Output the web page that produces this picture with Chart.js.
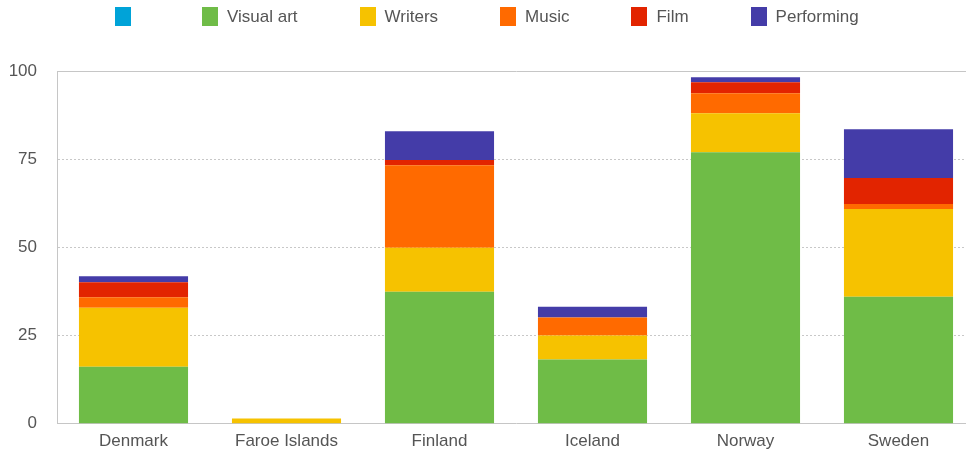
<!DOCTYPE html>
<html>
<head>
<meta charset="utf-8">
<script src="https://cdn.jsdelivr.net/npm/chart.js@4.4.0/dist/chart.umd.min.js"></script>
<style>
  html, body { margin: 0; padding: 0; overflow: hidden; background: #fff; }
  #wrap { position: relative; width: 975px; height: 454px; }
  #legend {
    position: absolute; top: 7px; left: 115px;
    display: flex; gap: 62px;
    font-family: "Liberation Sans", Arial, sans-serif; font-size: 17px; color: #555;
  }
  .item { display: flex; align-items: center; height: 19px; }
  .box { width: 16px; height: 19px; margin-right: 9px; }
</style>
</head>
<body>
<div id="wrap">
  <div id="legend"></div>
  <canvas id="myChart"></canvas>
</div>
<script>
const categories = ["Denmark", "Faroe Islands", "Finland", "Iceland", "Norway", "Sweden"];
const unnamed    = [0, 0, 0, 0, 0, 0];
const visualArt  = [16.2, 0, 37.4, 18.2, 77.0, 36.0];
const writers    = [16.7, 1.5, 12.5, 6.8, 11.0, 24.9];
const music      = [3.0, 0, 23.4, 5.1, 5.7, 1.4];
const film       = [4.2, 0, 1.5, 0, 3.1, 7.4];
const performing = [1.7, 0, 8.1, 3.1, 1.4, 13.8];
const yTicks     = [0, 25, 50, 75, 100];

const font = { family: "'Liberation Sans', Arial, sans-serif", size: 17 };
const lineColor = "#c6c6c6";

function ds(label, data, color) {
  return { label: label, data: data, backgroundColor: color, borderWidth: 0 };
}

const config = {
  type: "bar",
  data: {
    labels: categories,
    datasets: [
      ds("", unnamed, "#00a3d8"),
      ds("Visual art", visualArt, "#6fbc47"),
      ds("Writers", writers, "#f6c200"),
      ds("Music", music, "#ff6a00"),
      ds("Film", film, "#e22400"),
      ds("Performing", performing, "#443ca8")
    ]
  },
  options: {
    responsive: true,
    maintainAspectRatio: false,
    animation: false,
    layout: { padding: { top: 71, left: 9, right: 0, bottom: 3 } },
    datasets: { bar: { categoryPercentage: 1, barPercentage: 0.713 } },
    plugins: { legend: { display: false }, tooltip: { enabled: false } },
    scales: {
      x: {
        stacked: true,
        afterFit: function (axis) { axis.height = 26.7; },
        grid: { display: false, drawTicks: false },
        border: { color: lineColor, width: 1 },
        ticks: { font: font, color: "#555", padding: 7 }
      },
      xTop: {
        position: "top",
        grid: { display: false, drawTicks: false },
        border: { color: lineColor, width: 1 },
        ticks: { display: false }
      },
      y: {
        stacked: true,
        min: 0,
        max: 100,
        afterBuildTicks: function (axis) {
          axis.ticks = yTicks.map(function (v) { return { value: v }; });
        },
        afterFit: function (axis) { axis.width = 48; },
        grid: {
          drawTicks: false,
          color: function (ctx) {
            var v = ctx.tick ? ctx.tick.value : 0;
            return (v === 0 || v === 100) ? "rgba(0,0,0,0)" : "#c8c8c8";
          }
        },
        border: { color: lineColor, width: 1, dash: [2, 2] },
        ticks: { font: font, color: "#555", padding: 20 }
      }
    }
  }
};

const myChart = new Chart(document.getElementById("myChart"), config);

// html legend, spaced like the original
const legend = document.getElementById("legend");
config.data.datasets.forEach(function (d) {
  var item = document.createElement("div");
  item.className = "item";
  var box = document.createElement("span");
  box.className = "box";
  box.style.background = d.backgroundColor;
  var txt = document.createElement("span");
  txt.textContent = d.label;
  item.appendChild(box);
  item.appendChild(txt);
  legend.appendChild(item);
});
</script>
</body>
</html>
